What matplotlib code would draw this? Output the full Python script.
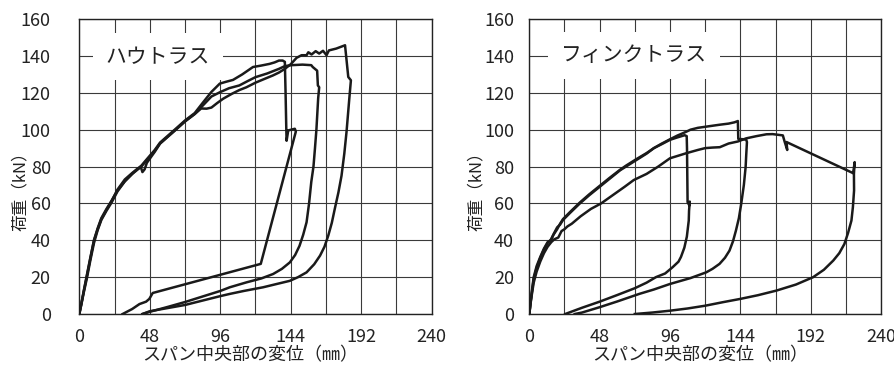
import matplotlib
matplotlib.use("Agg")
import matplotlib.pyplot as plt
from matplotlib import font_manager

# --- data: (displacement mm, load kN) ---
# ハウトラス
howe_a = [(0, 0), (1.5, 6), (3, 12), (5, 20), (7.5, 30), (10, 40), (12.5, 46), (15, 51.5), (18.5, 56.5), (21.8, 61),
          (26, 67.5), (31, 73), (36, 76.5), (42.3, 80.5), (46, 84), (51.4, 89), (55, 93), (60, 96.5), (65, 100), (72, 105),
          (78.6, 109), (84, 114.5), (90, 120.5), (95.7, 125), (100, 126), (104.7, 127), (111, 130), (118.3, 134), (124, 134.8),
          (129.6, 135.7), (133, 136.5), (136, 137.5), (138.5, 137.5), (140, 136.8),
          (140.5, 120), (141, 100), (141.2, 94), (142.3, 99.6), (146.8, 100.5), (147.5, 99), (123.6, 27.2), (50, 11.4),
          (47.7, 8.2), (45.5, 6.7), (41, 5.4), (36, 2.7), (29.5, 0)]
howe_b = [(0, 0), (1.5, 5.5), (3, 11.5), (5.2, 19.5), (7.5, 29), (10, 38.5), (12.5, 45.5), (15, 51), (18.5, 56), (22, 60.5),
          (26, 66.5), (31, 72), (36, 76), (42.3, 80), (46, 83.5), (51.4, 88.5), (55, 92.5), (60, 96), (65, 99.5), (72, 104.5),
          (78.6, 108.5), (84, 113), (90, 118), (96, 120.4), (102, 122.5), (109, 124), (115, 126.5), (120, 128.5), (128, 130.5),
          (136, 133), (140, 134.5), (144.5, 135), (152, 135.3), (158, 135), (159, 134), (162, 132), (162.5, 124), (163.4, 123),
          (162.7, 117), (161.5, 100), (160.5, 89.7), (159.5, 80), (158, 71.6), (156.5, 60), (154.8, 49.8), (152.5, 43),
          (150, 37), (147, 32), (143.4, 28), (138, 24.5), (132, 21.7), (124, 19.3), (114, 17.2), (102.5, 14.5), (96, 12.5),
          (84, 9.5), (72, 6.5), (60, 3.8), (48, 1.2), (43, 0)]
howe_c = [(0, 0), (1.5, 6), (3, 12.5), (5, 20.5), (7.5, 30.5), (10, 40), (12.5, 46.5), (15, 52), (18.5, 57), (22, 61.5),
          (26, 67), (31, 72), (36, 76), (40, 79), (42, 79.5), (43, 77), (44.5, 78.5), (46, 82), (51.4, 88), (55, 92.5),
          (60, 96), (65, 99.5), (72, 104.5), (78.6, 108.5), (83, 111.5), (86.7, 111.4), (90, 112), (94, 114.5), (98, 116.8),
          (104, 119.5), (109, 121.5), (113.8, 123), (120, 125.5), (126, 127.5), (131.8, 129.4), (136, 131), (140, 133),
          (144, 135.5), (148, 139), (151.4, 140.4), (154.8, 140.4), (156, 142), (158.2, 140.8), (161, 142.6), (163.4, 141.3),
          (166, 142.8), (168.4, 140.4), (170, 143), (175, 144), (181, 145.8),
          (183.2, 128.6), (185, 126.8), (183.9, 116.8), (182, 98.7), (180.5, 87), (178.6, 75), (176.5, 66), (174, 57),
          (172, 49.5), (169.6, 42.6), (167, 36.5), (164, 31.7), (160, 27), (154.8, 22.6), (149, 20), (143.4, 18),
          (134, 16.2), (125.2, 14.5), (112, 12.5), (102.5, 10.9), (96, 9.7), (84, 7.3), (72, 4.9), (60, 3.2), (48, 1.5), (43, 0)]

# フィンクトラス
fink_d = [(0, 0), (1, 7), (2, 13), (3, 19), (5, 25), (7.5, 30.5), (10, 35), (12.5, 38.5), (14.8, 40.5), (17, 44), (19, 47),
          (21, 48.5), (23, 51), (28, 55), (34.5, 60), (41, 64.5), (48, 69), (55, 73.5), (62, 78), (66, 80), (73, 83.5),
          (80, 87), (85, 90), (90, 92), (96, 94.5), (101, 95.8), (106, 97), (107.4, 96.5),
          (107.6, 90), (108, 60.7), (109.2, 58.9), (109.5, 61), (109, 56), (108.8, 50.7), (107.5, 42), (105.8, 36),
          (103.5, 31), (101.8, 28.4), (97.8, 25.4), (92.7, 22), (86.4, 20), (80, 17), (72, 14), (60, 10.3), (48, 6.7),
          (36, 3.4), (24.5, 0)]
fink_e = [(0, 0), (1, 7.5), (2, 14), (3, 20), (5, 26), (7.5, 31), (10, 35.5), (12.5, 39), (14.8, 40), (16.5, 43), (19, 46),
          (21, 49), (23, 51.5), (28, 55.5), (34.5, 60.5), (41, 65), (48, 69.5), (55, 74), (62, 78.3), (66, 80.5), (73, 84),
          (80, 87.3), (85, 90), (90, 92.3), (96, 94.8), (101, 96.8), (106, 98.5), (110, 100), (115, 101), (122, 101.8),
          (130, 102.7), (136, 103.3), (140, 104), (142.3, 104.7),
          (142.6, 95), (146, 94.8), (148, 94.6), (148.5, 93.3), (148, 86), (147.6, 79.7), (146.4, 70), (144.6, 59.8),
          (143, 52), (141, 45.3), (139, 39.5), (136.6, 34.4), (133.5, 30.5), (129.8, 27.2), (125, 24.5), (120.7, 22.6),
          (110, 19.5), (96, 16.3), (85, 13.3), (75, 10.9), (60, 6.8), (48, 3.7), (36, 0.8), (31, 0)]
fink_f = [(0, 0), (1, 6.5), (2, 12), (3, 17), (5, 23), (7.5, 28.5), (10, 33), (12.5, 36.5), (15, 39), (17, 40.5),
          (19.8, 41.5), (22, 45), (24, 46), (26, 47.5), (29, 49), (35, 53), (42, 57), (49, 60), (57, 64.5), (65, 69),
          (71.3, 72.7), (80, 76), (88, 80), (96, 84.5), (107.4, 87.3), (115, 89), (120, 90), (125, 90.3), (130, 90.5),
          (136, 92.5), (142.3, 93.6), (148, 95.3), (155, 96.5), (161.8, 97.5), (166, 97.6), (173, 96.9), (174.3, 93.3),
          (176, 89), (175.5, 93.3),
          (221, 76.4), (222, 82.4), (221.5, 76), (221.6, 67), (220.8, 58), (219.8, 50.7), (217.5, 44), (215, 38),
          (211.5, 33), (207.4, 29), (201, 24), (193.7, 20), (182, 16), (168.6, 12.7), (156, 10.2), (144, 8.2),
          (132, 6.4), (120, 4.5), (108, 3), (96, 1.8), (84, 0.8), (72, 0)]

x_ticks = [0, 48, 96, 144, 192, 240]
y_ticks = [0, 20, 40, 60, 80, 100, 120, 140, 160]
titles = ["ハウトラス", "フィンクトラス"]
xlabel = "スパン中央部の変位（㎜）"
ylabel = "荷重（kN）"

jp = "Noto Sans CJK JP"
try:
    font_manager.findfont("Liberation Sans Narrow", fallback_to_default=False)
    num_font = ["Liberation Sans Narrow"]
except Exception:
    num_font = [jp]

plt.rcParams["font.family"] = [jp, "DejaVu Sans"]

fig = plt.figure(figsize=(8.95, 3.65), dpi=100)
ax1 = fig.add_axes([0.0886, 0.1397, 0.3937, 0.808])
ax2 = fig.add_axes([0.5914, 0.1397, 0.3930, 0.808])

panels = [
    (ax1, [howe_a, howe_b, howe_c], 53.6, 139.5, 20.5, -0.168),
    (ax2, [fink_d, fink_e, fink_f], 71.4, 140.5, 11, -0.149),
]

for (ax, curves, tx, ty, ypad, ylx), title in zip(panels, titles):
    for pts in curves:
        cx, cy = zip(*pts)
        ax.plot(cx, cy, color="#1a1a1a", lw=1.8, solid_joinstyle="round", zorder=3)
    ax.set_xlim(0, 240)
    ax.set_ylim(0, 160)
    grid_x = list(range(0, 241, 24))
    ax.set_xticks(grid_x)
    ax.set_xticklabels([str(v) if v in x_ticks else "" for v in grid_x])
    ax.set_yticks(y_ticks)
    ax.set_yticklabels([str(v) for v in y_ticks])
    ax.grid(True, color="#3a3a3a", lw=0.8)
    ax.set_axisbelow(True)
    for s in ax.spines.values():
        s.set_color("#222222")
        s.set_linewidth(1.0)
    ax.tick_params(axis="x", length=0, pad=10, labelsize=13)
    ax.tick_params(axis="y", length=0, pad=ypad, labelsize=13)
    for lab in ax.get_xticklabels() + ax.get_yticklabels():
        lab.set_family(num_font)
        lab.set_color("#222222")
    ax.text(tx, ty, title, ha="center", va="center", fontsize=15, color="#222222",
            bbox=dict(facecolor="white", edgecolor="none", pad=9), zorder=4)
    ax.set_xlabel(xlabel, fontsize=13, color="#222222", va="center")
    ax.xaxis.set_label_coords(0.485, -0.139)
    ax.set_ylabel(ylabel, fontsize=12, color="#222222", va="center")
    ax.yaxis.set_label_coords(ylx, 0.43)

fig.savefig("out.png", dpi=100)
